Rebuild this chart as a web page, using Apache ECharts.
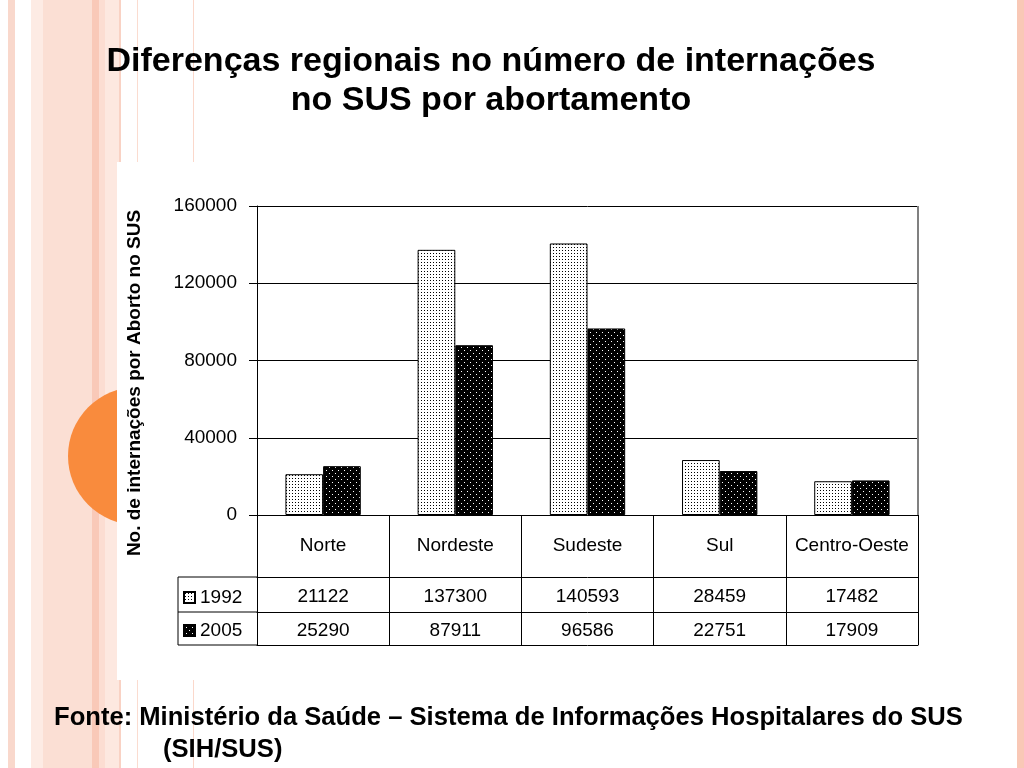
<!DOCTYPE html>
<html>
<head>
<meta charset="utf-8">
<script src="https://cdn.jsdelivr.net/npm/echarts@6/dist/echarts.min.js"></script>
<style>
  html, body { margin: 0; padding: 0; background: #fff; }
  #chart { width: 1024px; height: 768px; }
</style>
</head>
<body>
<div id="chart"></div>
<script>
  // data
  const regions = ['Norte', 'Nordeste', 'Sudeste', 'Sul', 'Centro-Oeste'];
  const years = ['1992', '2005'];
  const values1992 = [21122, 137300, 140593, 28459, 17482];
  const values2005 = [25290, 87911, 96586, 22751, 17909];
  const yTicks = [0, 40000, 80000, 120000, 160000];

  const font = '"Liberation Sans", Arial, sans-serif';

  // dotted fills like the old Excel patterns
  function makePattern(bg, fg, w, h, dots) {
    const c = document.createElement('canvas');
    c.width = w; c.height = h;
    const ctx = c.getContext('2d');
    ctx.fillStyle = bg;
    ctx.fillRect(0, 0, w, h);
    ctx.fillStyle = fg;
    dots.forEach(d => ctx.fillRect(d[0], d[1], 1, 1));
    return { image: c, repeat: 'repeat' };
  }
  const pat1992 = makePattern('#ffffff', '#000000', 3, 3, [[1, 1]]);
  const pat2005 = makePattern('#000000', '#ffffff', 6, 6, [[2, 2], [5, 5]]);

  // slide background stripes
  const stripes = [
    [8, 7, '#f9d8cc'], [31, 12, '#fdebe4'], [43, 49, '#fbdfd4'],
    [92, 7, '#f9c9b8'], [99, 6, '#fcddd2'], [105, 14, '#fde8e0'],
    [119, 2, '#f9d2c4'], [137, 1, '#fbdcd0'], [193, 1, '#fbd8cb'],
    [1017, 7, '#f9c8b6']
  ];
  const graphics = stripes.map(s => ({
    type: 'rect', z: -10, silent: true,
    shape: { x: s[0], y: 0, width: s[1], height: 768 },
    style: { fill: s[2] }
  }));
  const txt = (x, y, text, size, align) => ({
    type: 'text', z: 5, x: x, y: y,
    style: { text: text, font: 'bold ' + size + 'px ' + font, fill: '#000', textAlign: align, textVerticalAlign: 'middle' }
  });
  const line = (x1, y1, x2, y2) => ({
    type: 'line', z: 5, shape: { x1: x1, y1: y1, x2: x2, y2: y2 }, style: { stroke: '#000', lineWidth: 1 }
  });
  graphics.push(
    { type: 'circle', z: -10, silent: true, shape: { cx: 137, cy: 456, r: 69 }, style: { fill: '#f98b3d' } },
    { type: 'rect', z: -10, silent: true, shape: { x: 117, y: 162, width: 821, height: 518 }, style: { fill: '#ffffff' } },
    txt(491, 62, 'Diferenças regionais no número de internações', 34, 'center'),
    txt(491, 101, 'no SUS por abortamento', 34, 'center'),
    txt(54, 718, 'Fonte: Ministério da Saúde – Sistema de Informações Hospitalares do SUS', 25.6, 'left'),
    txt(163, 750, '(SIH/SUS)', 25.6, 'left'),
    Object.assign(txt(135, 383, 'No. de internações por Aborto no SUS', 19, 'center'), { rotation: Math.PI / 2 }),
    // legend column of the data table
    line(178, 577, 257, 577),
    line(178, 612, 257, 612),
    line(178, 645, 257, 645),
    line(178, 577, 178, 645),
    // plot frame on the right
    { type: 'line', z: 5, shape: { x1: 918, y1: 206, x2: 918, y2: 515 }, style: { stroke: '#808080', lineWidth: 2 } }
  );

  const chart = echarts.init(document.getElementById('chart'));
  const tableAxis = (offset, rowValues, margin) => ({
    type: 'category',
    data: regions,
    position: 'bottom',
    offset: offset,
    axisLine: { show: true, lineStyle: { color: '#000', width: 1 } },
    axisTick: { show: false },
    axisLabel: {
      show: !!rowValues, interval: 0, margin: margin,
      color: '#000', fontSize: 19, fontFamily: font,
      formatter: (v, i) => rowValues ? String(rowValues[i]) : ''
    }
  });

  const option = {
    animation: false,
    backgroundColor: '#ffffff',
    graphic: graphics,
    legend: {
      orient: 'vertical',
      left: 178, top: 583,
      itemWidth: 11, itemHeight: 11, itemGap: 14,
      icon: 'rect',
      data: years,
      textStyle: { color: '#000', fontSize: 19, fontFamily: font }
    },
    grid: {
      left: 257, right: 106, top: 206, bottom: 253
    },
    yAxis: {
      type: 'value',
      min: yTicks[0], max: yTicks[yTicks.length - 1], interval: yTicks[1] - yTicks[0],
      axisLine: { show: true, lineStyle: { color: '#000' } },
      axisTick: { show: true, length: 8, lineStyle: { color: '#000' } },
      axisLabel: { color: '#000', fontSize: 19, fontFamily: font, margin: 20, formatter: v => String(v) },
      splitLine: { show: true, lineStyle: { color: '#000', width: 1 } }
    },
    xAxis: [
      {
        type: 'category',
        data: regions,
        position: 'bottom',
        axisLine: { show: true, lineStyle: { color: '#000' } },
        axisTick: { show: true, interval: 0, length: 130, lineStyle: { color: '#000' } },
        axisLabel: { interval: 0, margin: 21, color: '#000', fontSize: 19, fontFamily: font }
      },
      tableAxis(62, values1992, 10),
      tableAxis(97, values2005, 9),
      tableAxis(130, null, 0)
    ],
    series: [
      {
        name: years[0], type: 'bar', data: values1992, xAxisIndex: 0,
        barGap: '0%', barCategoryGap: '43%',
        itemStyle: { color: pat1992, borderColor: '#000', borderWidth: 1 }
      },
      {
        name: years[1], type: 'bar', data: values2005, xAxisIndex: 0,
        itemStyle: { color: pat2005, borderColor: '#000', borderWidth: 1 }
      }
    ]
  };
  chart.setOption(option);

  window.addEventListener('resize', function() {
    chart.resize();
  });
</script>
</body>
</html>
